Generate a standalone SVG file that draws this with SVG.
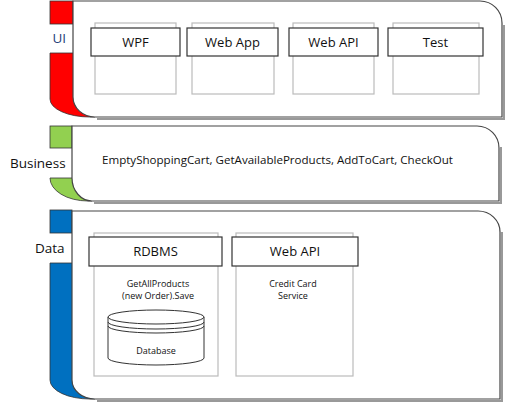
<svg xmlns="http://www.w3.org/2000/svg" width="507" height="404" viewBox="0 0 507 404">
<style>
text{font-family:"Open Sans","Noto Sans","Liberation Sans",sans-serif;fill:#111}
.panel{fill:#fff;stroke:#444;stroke-width:1.2}
.shadow{fill:none;stroke:#999;stroke-width:2}
.hdr{fill:#fff;stroke:#333;stroke-width:1.2}
.body{fill:#fff;stroke:#bbb;stroke-width:1.2}
.strip{stroke:#333;stroke-width:0.8}
.h{font-size:13px;text-anchor:middle}
.s{font-size:9px;text-anchor:middle}
.lbl{font-size:13.5px}
</style>
<rect width="507" height="404" fill="#fff"/>
<g id="layer-ui">
<path class="shadow" d="M97,119 H504 V25"/>
<rect class="strip" x="50" y="1" width="23" height="23" fill="#ff0000"/>
<path class="strip" d="M50,53 H95 V117 H90 A40,18 0 0 1 50,99 Z" fill="#ff0000"/>
<path class="panel" d="M73,1 H480 A22,22 0 0 1 502,23 V117 H95 A22,20 0 0 1 73,97 Z"/>
<text x="52.5" y="43" class="lbl" style="fill:#1f3f78">UI</text>
</g>
<g id="ui-wpf"><rect class="body" x="95" y="23" width="81" height="71"/><rect class="hdr" x="91" y="28" width="89" height="28"/><text class="h" x="135.5" y="47">WPF</text></g>
<g id="ui-webapp"><rect class="body" x="192" y="23" width="82" height="71"/><rect class="hdr" x="187" y="28" width="91" height="28"/><text class="h" x="232.5" y="47">Web App</text></g>
<g id="ui-webapi"><rect class="body" x="293" y="23" width="81" height="71"/><rect class="hdr" x="289" y="28" width="89" height="28"/><text class="h" x="333.5" y="47">Web API</text></g>
<g id="ui-test"><rect class="body" x="393" y="23" width="86" height="71"/><rect class="hdr" x="388" y="28" width="95" height="28"/><text class="h" x="435.5" y="47">Test</text></g>

<g id="layer-business">
<path class="shadow" d="M94,203 H501 V147"/>
<rect class="strip" x="50" y="126" width="22" height="22" fill="#92d050"/>
<path class="strip" d="M50,178 H92 V201 H88 A38,23 0 0 1 50,178 Z" fill="#92d050"/>
<path class="panel" d="M72,126 H477 A22,22 0 0 1 499,148 V201 H92 A20,23 0 0 1 72,178 Z"/>
<text x="10" y="168" class="lbl">Business</text>
<text x="102" y="164" style="font-size:11px" textLength="351" lengthAdjust="spacingAndGlyphs">EmptyShoppingCart, GetAvailableProducts, AddToCart, CheckOut</text>
</g>

<g id="layer-data">
<path class="shadow" d="M97,401 H502 V232"/>
<rect class="strip" x="50" y="210" width="22" height="23" fill="#0070c0"/>
<path class="strip" d="M50,263 H95 V399 H90 A40,19 0 0 1 50,380 Z" fill="#0070c0"/>
<path class="panel" d="M72,211 H478 A22,21 0 0 1 500,232 V399 H95 A23,19 0 0 1 72,380 Z"/>
<text x="35" y="253" class="lbl">Data</text>
</g>
<g id="data-rdbms">
<rect class="body" x="94" y="233" width="124" height="143"/>
<rect class="hdr" x="89" y="237" width="133" height="29"/>
<text class="h" x="155.5" y="256">RDBMS</text>
<text class="s" x="158" y="287">GetAllProducts</text>
<text class="s" x="158" y="299">(new Order).Save</text>
</g>
<g id="data-database" fill="#fff" stroke="#333" stroke-width="1">
<path d="M108,317 V358 A48,7 0 0 0 204,358 V317"/>
<ellipse cx="156" cy="317" rx="48" ry="7"/>
<path d="M108,322 A48,7 0 0 0 204,322" fill="none"/>
<path d="M108,326 A48,7 0 0 0 204,326" fill="none"/>
<text class="s" x="156" y="354" stroke="none">Database</text>
</g>
<g id="data-webapi">
<rect class="body" x="236" y="233" width="117" height="143"/>
<rect class="hdr" x="232" y="237" width="126" height="29"/>
<text class="h" x="295" y="256">Web API</text>
<text class="s" x="293" y="287">Credit Card</text>
<text class="s" x="293" y="299">Service</text>
</g>
<g id="connectors"></g>
</svg>
